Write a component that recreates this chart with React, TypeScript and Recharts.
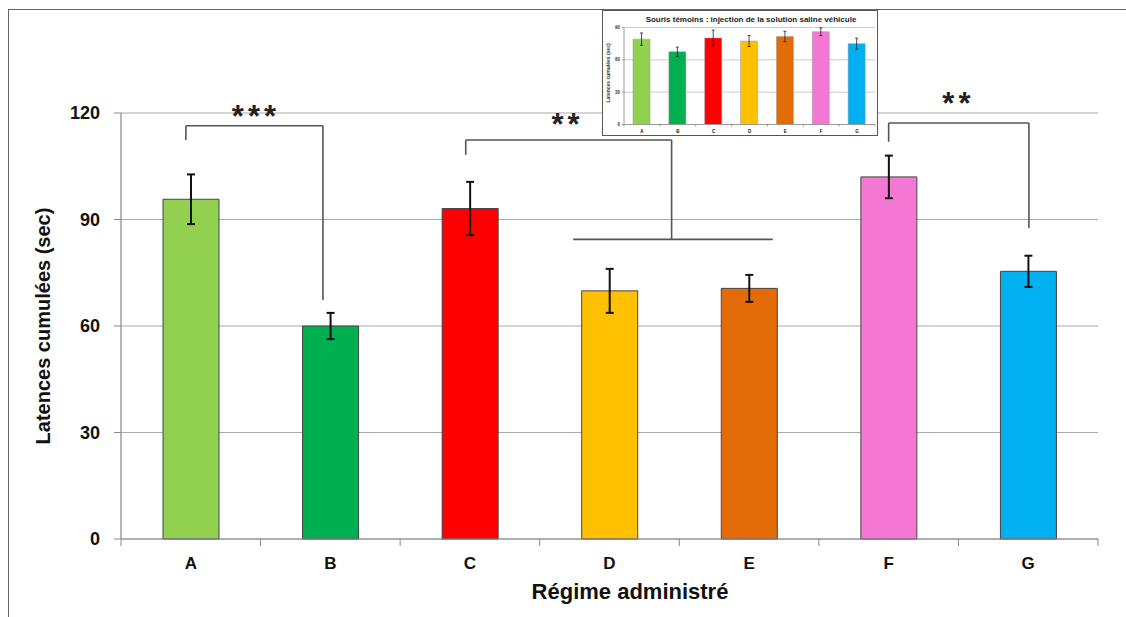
import React from 'react';
import { BarChart, Bar, Cell, XAxis, YAxis, CartesianGrid, ErrorBar, ReferenceLine, ReferenceDot, Label } from 'recharts';

const categories = ['A', 'B', 'C', 'D', 'E', 'F', 'G'];
const latences = [95.7, 60, 93.1, 69.9, 70.6, 102, 75.4];
const erreurs = [7, 3.7, 7.5, 6.2, 3.8, 6, 4.4];
const temoins = [79.2, 67.5, 80.2, 77.4, 81.7, 86.1, 75];
const erreursTemoins = [5.7, 4.3, 7.3, 5.1, 4.8, 3.6, 5.1];
const COLORS = ['#92D050', '#00B050', '#FF0000', '#FFC000', '#E36C09', '#F477D4', '#00B0F0'];

const yTicks = [0, 30, 60, 90, 120];
const insetTicks = [0, 30, 60, 90];

// brackets of significance, in data units (x = category index)
const crochets = [
  [[-0.035, 112.4], [-0.035, 116.4], [0.947, 116.4], [0.947, 67.3]],
  [[1.97, 108.2], [1.97, 112.4], [3.445, 112.4], [3.445, 84.4]],
  [[2.74, 84.4], [4.17, 84.4]],
  [[5.0, 111.9], [5.0, 117.2], [6.005, 117.2], [6.005, 87.6]],
];
const etoiles = [
  { x: 0.467, y: 119.2, text: '***' },
  { x: 2.7, y: 116.9, text: '**' },
  { x: 5.5, y: 122.8, text: '**' },
];

const FONT = '"Liberation Sans", Arial, sans-serif';
const halfTicks = [-0.5, 0, 0.5, 1, 1.5, 2, 2.5, 3, 3.5, 4, 4.5, 5, 5.5, 6, 6.5];

const mainData = categories.map((c, i) => ({ x: i, name: c, value: latences[i], err: erreurs[i] }));
const insetData = categories.map((c, i) => ({ x: i, name: c, value: temoins[i], err: erreursTemoins[i] }));

const makeTick = (size: number, len: number, offset: number, color: string) => (props: any) => {
  const { x, y, payload } = props;
  const v = payload.value;
  if (Number.isInteger(v)) {
    return (
      <text x={x} y={y + offset} textAnchor="middle" dominantBaseline="central" fontFamily={FONT} fontWeight="bold" fontSize={size} fill="#111">
        {categories[v]}
      </text>
    );
  }
  return <line x1={x} y1={y} x2={x} y2={y + len} stroke={color} strokeWidth={1} />;
};

function Inset() {
  return (
    <div style={{ position: 'absolute', left: 602, top: 10, width: 276, height: 126, border: '1.5px solid #555', boxSizing: 'border-box', background: '#fff' }}>
      <div style={{ position: 'absolute', left: 148, top: 8, transform: 'translate(-50%,-50%)', whiteSpace: 'nowrap', fontFamily: FONT, fontWeight: 'bold', fontSize: 8, color: '#222' }}>
        Souris témoins : injection de la solution saline véhicule
      </div>
      <div style={{ position: 'absolute', left: 5, top: 62, transform: 'translate(-50%,-50%) rotate(-90deg)', whiteSpace: 'nowrap', fontFamily: FONT, fontWeight: 'bold', fontSize: 5, color: '#333' }}>
        Latences cumulées (sec)
      </div>
      <BarChart width={273} height={123} data={insetData} margin={{ top: 16.5, right: 1, bottom: 0.5, left: 7 }}>
        <CartesianGrid horizontal vertical={false} stroke="#ccc" />
        <XAxis dataKey="x" type="number" domain={[-0.5, 6.5]} ticks={halfTicks} height={9} interval={0}
          axisLine={{ stroke: '#999' }} tickLine={false} tickSize={0} tickMargin={0} tick={makeTick(4.5, 2, 7, '#999')} />
        <YAxis domain={[0, 90]} ticks={insetTicks} width={14} axisLine={{ stroke: '#999' }} tickLine={{ stroke: '#999' }} tickSize={2}
          tickMargin={2} tick={{ fontSize: 4.5, fontFamily: FONT, fontWeight: 'bold', fill: '#333' }} />
        <Bar dataKey="value" barSize={17} isAnimationActive={false} stroke="#999" strokeWidth={0.5}>
          {insetData.map((d, i) => <Cell key={`ic-${i}`} fill={COLORS[i]} />)}
          <ErrorBar dataKey="err" width={1.5} strokeWidth={0.8} stroke="#222" />
        </Bar>
      </BarChart>
    </div>
  );
}

export default function App() {
  return (
    <div style={{ position: 'absolute', left: 0, top: 0, width: 1126, height: 617, background: '#fff', overflow: 'hidden' }}>
      <div style={{ position: 'absolute', left: 8, top: 9, width: 1200, height: 700, borderLeft: '1.5px solid #666', borderTop: '1.5px solid #666' }} />
      <div style={{ position: 'absolute', left: 0, top: 0 }}>
        <BarChart width={1126} height={617} data={mainData} margin={{ top: 113, right: 28, bottom: 48, left: 61 }}>
          <CartesianGrid horizontal vertical={false} stroke="#aaa" strokeWidth={1.2} />
          <XAxis dataKey="x" type="number" domain={[-0.5, 6.5]} ticks={halfTicks} height={30} interval={0}
            axisLine={{ stroke: '#888', strokeWidth: 1.2 }} tickLine={false} tickSize={0} tickMargin={0} tick={makeTick(17, 7, 24, '#888')} />
          <YAxis domain={[0, 120]} ticks={yTicks} width={60} axisLine={{ stroke: '#888', strokeWidth: 1.2 }} tickLine={{ stroke: '#888' }}
            tickSize={7} tickMargin={14} tick={{ fontSize: 18, fontFamily: FONT, fontWeight: 'bold', fill: '#111' }} />
          <Bar dataKey="value" barSize={56} isAnimationActive={false} stroke="#444" strokeWidth={1}>
            {mainData.map((d, i) => <Cell key={`c-${i}`} fill={COLORS[i]} />)}
            <ErrorBar dataKey="err" width={4} strokeWidth={2} stroke="#111" />
          </Bar>
          {crochets.flatMap((pts, k) =>
            pts.slice(1).map((p, j) => (
              <ReferenceLine key={`cr-${k}-${j}`} ifOverflow="visible" stroke="#555" strokeWidth={1.6}
                segment={[{ x: pts[j][0], y: pts[j][1] }, { x: p[0], y: p[1] }]} />
            ))
          )}
          {etoiles.map((e, i) => (
            <ReferenceDot key={`et-${i}`} x={e.x} y={e.y} r={0} ifOverflow="visible" stroke="none" fill="none"
              label={<Label value={e.text} position="center" fontFamily={FONT} fontWeight="bold" fontSize={31} letterSpacing={4} fill="#222" />} />
          ))}
        </BarChart>
      </div>
      <div style={{ position: 'absolute', left: 43, top: 326, transform: 'translate(-50%,-50%) rotate(-90deg)', whiteSpace: 'nowrap', fontFamily: FONT, fontWeight: 'bold', fontSize: 20, color: '#111' }}>
        Latences cumulées (sec)
      </div>
      <div style={{ position: 'absolute', left: 630, top: 592, transform: 'translate(-50%,-50%)', whiteSpace: 'nowrap', fontFamily: FONT, fontWeight: 'bold', fontSize: 22, color: '#111' }}>
        Régime administré
      </div>
      <Inset />
    </div>
  );
}
